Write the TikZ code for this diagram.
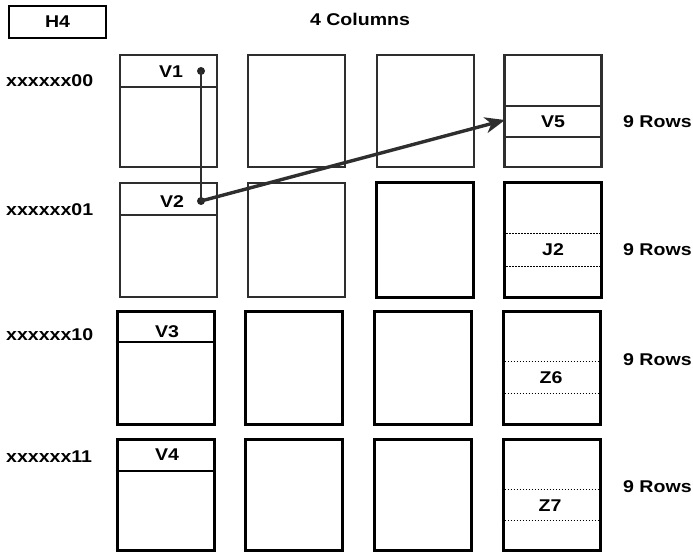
\documentclass[tikz,border=0pt]{standalone}
\usepackage{fontspec}
\setmainfont{Liberation Sans}[FakeStretch=1.15]
\usetikzlibrary{arrows.meta}
\begin{document}
\begin{tikzpicture}[x=1pt,y=-1pt,
  every node/.style={font=\fontsize{17}{18}\selectfont\bfseries},
  gbox/.style={draw=black!82,line width=2.4pt,inner sep=0pt,minimum width=97pt,minimum height=112pt},
  kbox/.style={draw=black,line width=3pt,inner sep=0pt,minimum width=97pt,minimum height=112pt},
  gdiv/.style={draw=black!82,line width=2.4pt},
  kdiv/.style={draw=black,line width=2.4pt},
  dotdiv/.style={draw=black,line width=0.8pt,dash pattern=on 1.5pt off 1.5pt},
  lbl/.style={anchor=west,inner sep=0pt},
  pin/.style={circle,fill=black!85,inner sep=0pt,minimum size=8pt},
  arr/.style={draw=black!82,line width=3.4pt,-{Stealth[length=20pt,width=16pt,inset=6pt]}},
  link/.style={draw=black!82,line width=2.4pt}]
\useasboundingbox (0,0) rectangle (693,553);
% header
\node[draw=black,line width=2.6pt,minimum width=97pt,minimum height=32pt,inner sep=0pt] (h4) at (57.5,22) {H4};
\node (cols) at (360,19) {4 Columns};
% row labels
\node[lbl] (l0) at (6,81) {xxxxxx00};
\node[lbl] (l1) at (6,210) {xxxxxx01};
\node[lbl] (l2) at (6,335) {xxxxxx10};
\node[lbl] (l3) at (6,457) {xxxxxx11};
\node[lbl] (r0) at (623,122) {9 Rows};
\node[lbl] (r1) at (623,250) {9 Rows};
\node[lbl] (r2) at (623,360) {9 Rows};
\node[lbl] (r3) at (623,487) {9 Rows};
% row 1
\node[gbox] (b11) at (168.5,111) {};
\node[gbox] (b12) at (296.5,111) {};
\node[gbox] (b13) at (425.5,111) {};
\node[gbox] (b14) at (553,111) {};
\draw[gdiv] (b11.west |- 0,87) -- (b11.east |- 0,87);
\draw[gdiv] (b14.west |- 0,106) -- (b14.east |- 0,106);
\draw[gdiv] (b14.west |- 0,137) -- (b14.east |- 0,137);
\node (v1) at (171,72) {V1};
\node (v5) at (553,122) {V5};
% row 2
\node[gbox,minimum height=114pt] (b21) at (168.5,240) {};
\node[gbox,minimum height=114pt] (b22) at (296.5,240) {};
\node[kbox,minimum height=114pt] (b23) at (424.5,240) {};
\node[kbox,minimum height=114pt] (b24) at (553,240) {};
\draw[gdiv] (b21.west |- 0,215) -- (b21.east |- 0,215);
\draw[dotdiv] (b24.west |- 0,233) -- (b24.east |- 0,233);
\draw[dotdiv] (b24.west |- 0,266) -- (b24.east |- 0,266);
\node (v2) at (172,202) {V2};
\node (j2) at (553,250) {J2};
% row 3
\node[kbox,minimum height=113pt] (b31) at (165.5,367.5) {};
\node[kbox,minimum height=113pt] (b32) at (294,367.5) {};
\node[kbox,minimum height=113pt] (b33) at (423,367.5) {};
\node[kbox,minimum height=113pt] (b34) at (551.5,367.5) {};
\draw[kdiv] (b31.west |- 0,342) -- (b31.east |- 0,342);
\draw[dotdiv] (b34.west |- 0,361) -- (b34.east |- 0,361);
\draw[dotdiv] (b34.west |- 0,393) -- (b34.east |- 0,393);
\node (v3) at (167,332) {V3};
\node (z6) at (551,378) {Z6};
% row 4
\node[kbox,minimum height=111pt] (b41) at (165.5,494.5) {};
\node[kbox,minimum height=111pt] (b42) at (294,494.5) {};
\node[kbox,minimum height=111pt] (b43) at (423,494.5) {};
\node[kbox,minimum height=111pt] (b44) at (551.5,494.5) {};
\draw[kdiv] (b41.west |- 0,471) -- (b41.east |- 0,471);
\draw[dotdiv] (b44.west |- 0,489) -- (b44.east |- 0,489);
\draw[dotdiv] (b44.west |- 0,520) -- (b44.east |- 0,520);
\node (v4) at (167,455) {V4};
\node (z7) at (550,506) {Z7};
% connectors
\node[pin] (d1) at (201,71) {};
\node[pin] (d2) at (201,201) {};
\coordinate (v5in) at (505,120);
\draw[link] (d1.center) -- (d2.center);
\draw[arr] (d2.center) -- (v5in);
\end{tikzpicture}
\end{document}
